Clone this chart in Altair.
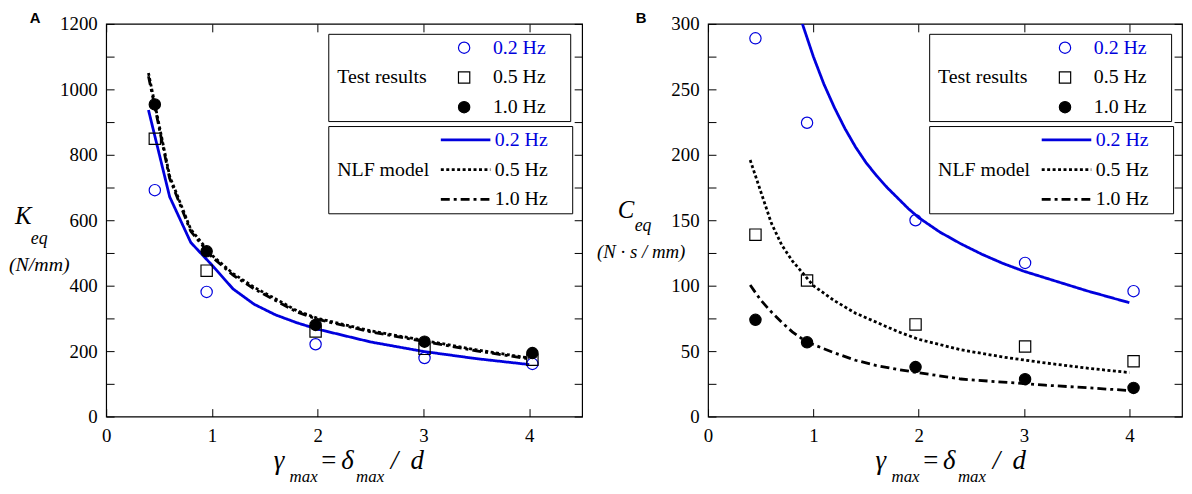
import altair as alt
import pandas as pd

SERIF = "Liberation Serif"
SANS = "Liberation Sans"
BLUE = "#0000dd"

freqs = ["0.2 Hz", "0.5 Hz", "1.0 Hz"]

# ---- Panel A: equivalent stiffness K_eq (N/mm)
a_test_x = [0.46, 0.95, 1.98, 3.01, 4.03]
a_test_02 = [692, 381, 221, 179, 161]
a_test_05 = [849, 446, 260, 207, 174]
a_test_10 = [954, 505, 280, 229, 194]

a_model_x = [0.4, 0.6, 0.8, 1.0, 1.2, 1.4, 1.6, 1.8, 2.0, 2.5, 3.0, 3.5, 4.0]
a_model_02 = [937, 672, 532, 463, 390, 343, 311, 287, 267, 228, 199, 177, 159]
a_model_05 = [1050, 735, 572, 493, 437, 395, 360, 324, 300, 262, 233, 204, 179]
a_model_10 = [1040, 728, 566, 488, 432, 390, 355, 320, 297, 259, 230, 201, 176]

# ---- Panel B: equivalent damping C_eq (N·s/mm)
b_test_x = [0.45, 0.94, 1.97, 3.01, 4.04]
b_test_02 = [289, 224.5, 150, 117.4, 95.8]
b_test_05 = [139, 104, 70.4, 53.5, 42.3]
b_test_10 = [73.9, 56.7, 37.8, 28.6, 21.9]

b_model_02_x = [0.8, 0.9, 1.0, 1.1, 1.2, 1.3, 1.4, 1.5, 1.6, 1.7, 1.8, 1.9, 2.0,
                2.2, 2.4, 2.6, 2.8, 3.0, 3.2, 3.4, 3.6, 3.8, 4.0]
b_model_02 = [330, 299, 275, 254, 236, 220, 206, 194, 184, 175, 167, 159, 152,
              141, 132, 124, 117, 111, 106, 101, 96, 91.5, 87]
b_model_x = [0.4, 0.5, 0.6, 0.7, 0.8, 0.9, 1.0, 1.2, 1.4, 1.6, 1.8, 2.0, 2.4, 2.8, 3.2, 3.6, 4.0]
b_model_05 = [196, 172, 148, 131, 119, 109.5, 100, 88.5, 79, 72, 65, 59, 51, 45.5, 41, 37, 33.6]
b_model_10 = [100.5, 89, 80, 72, 64.7, 59, 55, 48.7, 43, 39, 36, 33.5, 28.7, 26.3, 24, 22, 19.9]


def long_df(xs_list, ys_list, field):
    rows = []
    for f, xs, ys in zip(freqs, xs_list, ys_list):
        for x, y in zip(xs, ys):
            rows.append({"x": x, "y": y, field: f})
    return pd.DataFrame(rows)


a_test = long_df([a_test_x] * 3, [a_test_02, a_test_05, a_test_10], "test")
a_model = long_df([a_model_x] * 3, [a_model_02, a_model_05, a_model_10], "model")
b_test = long_df([b_test_x] * 3, [b_test_02, b_test_05, b_test_10], "test")
b_model = long_df([b_model_02_x, b_model_x, b_model_x],
                  [b_model_02, b_model_05, b_model_10], "model")

NB = "\u00a0"
ZW = "\u200b"   # keeps the non-breaking spaces from being trimmed
LABEL_COLOR = alt.ExprRef(expr="datum.value == '0.2 Hz' ? '%s' : 'black'" % BLUE)
LABEL_EXPR = "datum.label + '%s'" % (NB * 4 + ZW)


def txt(s, x, y, size, italic=True, font=SERIF, weight="normal"):
    return alt.Chart(alt.Data(values=[{"t": s}])).mark_text(
        align="left", baseline="alphabetic", font=font, fontSize=size,
        fontStyle="italic" if italic else "normal", fontWeight=weight,
        color="black"
    ).encode(x=alt.value(x), y=alt.value(y), text="t:N")


def panel(test_df, model_df, ymax, yminor, ymajor, letter, letter_dx,
          ytexts, W, H, LX):
    xs = alt.Scale(domain=[0, 4.5], nice=False, zero=False)
    ys = alt.Scale(domain=[0, ymax], nice=False)
    yvals = list(range(0, ymax + 1, yminor))
    common = dict(domain=False, grid=False, ticks=True, tickSize=8,
                  tickColor="black", tickWidth=1, offset=-8, title=None)
    ax_bottom = alt.Axis(orient="bottom", values=[0, 1, 2, 3, 4], format="d",
                         labelFont=SERIF, labelFontSize=19, labelColor="black",
                         labelPadding=10, labelFlush=False, labelOverlap=False,
                         **common)
    ax_left = alt.Axis(orient="left", values=yvals, format="d",
                       labelExpr="datum.value %% %d === 0 ? datum.label : ''" % ymajor,
                       labelFont=SERIF, labelFontSize=19, labelColor="black",
                       labelPadding=9, labelFlush=False, labelOverlap=False,
                       **common)
    ax_top = alt.Axis(orient="top", values=[0, 1, 2, 3, 4], labels=False, **common)
    ax_right = alt.Axis(orient="right", values=yvals, labels=False, **common)

    leg_common = dict(orient="none", legendX=LX, titleOrient="left",
                      titleFont=SERIF, titleFontSize=20, titleFontWeight="normal",
                      titleColor="black", labelFont=SERIF, labelFontSize=20,
                      labelColor=LABEL_COLOR, labelExpr=LABEL_EXPR, padding=4,
                      strokeColor="black", clipHeight=20, rowPadding=10)
    leg_test = alt.Legend(title=ZW + NB + "Test results", legendY=10, titlePadding=27,
                          labelOffset=19, symbolSize=130, symbolStrokeWidth=1.2,
                          **leg_common)
    leg_model = alt.Legend(title=ZW + NB + "NLF model", legendY=103, titlePadding=10,
                           labelOffset=3, symbolType="stroke", symbolSize=2500,
                           symbolStrokeWidth=2.8, **leg_common)

    lines = alt.Chart(model_df).mark_line(clip=True, strokeWidth=2.8).encode(
        x=alt.X("x:Q", scale=xs, axis=ax_top),
        y=alt.Y("y:Q", scale=ys, axis=ax_right),
        stroke=alt.Stroke("model:N", scale=alt.Scale(range=[BLUE, "black", "black"]),
                          legend=leg_model),
        strokeDash=alt.StrokeDash("model:N", scale=alt.Scale(range=[[1, 0], [3, 2.5], [9, 4, 3, 4]]),
                                  legend=leg_model),
    )
    points = alt.Chart(test_df).mark_point(size=130, strokeWidth=1.2, opacity=1, filled=False).encode(
        x=alt.X("x:Q", scale=xs, axis=ax_bottom),
        y=alt.Y("y:Q", scale=ys, axis=ax_left),
        color=alt.Color("test:N", scale=alt.Scale(range=[BLUE, "black", "black"]),
                        legend=leg_test),
        shape=alt.Shape("test:N", scale=alt.Scale(range=["circle", "square", "circle"]),
                        legend=leg_test),
        fill=alt.Fill("test:N", scale=alt.Scale(range=["transparent", "transparent", "black"]),
                      legend=leg_test),
    )
    ymain = H + 53
    ysub = H + 66
    texts = [
        txt("γ", 169, ymain, 27),
        txt("max", 185, ysub, 17),
        txt("=", 217, ymain, 27, italic=False),
        txt("δ", 237, ymain, 27),
        txt("max", 252, ysub, 17),
        txt("/", 287, ymain, 27),
        txt("d", 307, ymain, 27),
        txt(letter, letter_dx, -1, 15, italic=False, font=SANS, weight="bold"),
    ]
    texts += [txt(s, x, y, size) for (s, x, y, size) in ytexts]
    return alt.layer(lines, points, *texts).resolve_axis(
        x="independent", y="independent"
    ).properties(width=W, height=H)


H = 396
pa = panel(a_test, a_model, 1200, 100, 200, "A", -77,
           [("K", -92, 202, 25), ("eq", -76, 222, 18), ("(N/mm)", -98, 249, 20)],
           480, H, 224)
pb = panel(b_test, b_model, 300, 25, 50, "B", -73,
           [("C", -91, 196, 25), ("eq", -74, 209, 18), ("(N · s / mm)", -112, 236, 19)],
           478, H, 223)

chart = alt.hconcat(pa, pb, spacing=12).resolve_scale(
    x="independent", y="independent", color="independent", stroke="independent",
    fill="independent", shape="independent", strokeDash="independent"
).configure(font=SERIF).configure_view(stroke="black", strokeWidth=1.2).configure_axis(
    labelFont=SERIF, labelFontSize=19, labelColor="black"
).properties(padding=0)

chart.save("out.html", embed_options={"renderer": "svg", "actions": False})
